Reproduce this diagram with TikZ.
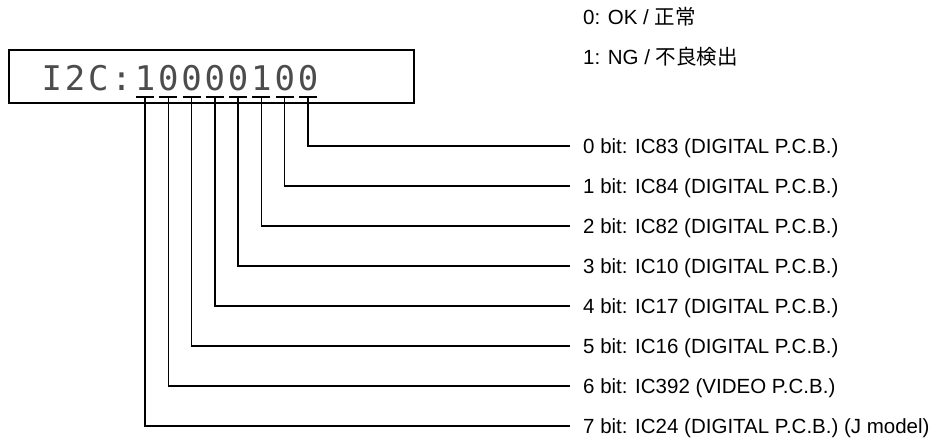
\documentclass[tikz,border=0pt]{standalone}
\usepackage{fontspec}
\setmainfont{Liberation Sans}
\newfontfamily\cjk{Noto Sans CJK JP}
\newfontfamily\lcdfont{DejaVu Sans Mono}
\usetikzlibrary{calc}
\begin{document}
\begin{tikzpicture}[x=1pt,y=-1pt,
  lbl/.style={anchor=base west, inner sep=0pt, font=\fontsize{20.5}{24}\selectfont},
  dig/.style={inner sep=0pt, anchor=base, font=\lcdfont\fontsize{34}{36}\selectfont, text=black!70},
  wire/.style={line width=1.5pt},
  tbar/.style={line width=2.2pt},
  frame/.style={draw, line width=2pt, inner sep=0pt}]
\useasboundingbox (0,0) rectangle (938,439);
% display box
\node[frame, minimum width=405pt, minimum height=53pt] (box) at (211.5,76) {};
\foreach \c [count=\i from 1] in {I,2,C,:}
  \node[dig] (p\i) at (145-23.29*5+23.29*\i,90) {\c};
\foreach \b/\v [count=\i from 0] in {7/1,6/0,5/0,4/0,3/0,2/1,1/0,0/0}
  \node[dig] (d\b) at (145+23.29*\i,90) {\v};
% legend
\node[lbl] (ok) at (583,24.5) {0: OK / {\cjk 正常}};
\node[lbl] (ng) at (583,64.5) {1: NG / {\cjk 不良検出}};
% bit labels
\foreach \b/\t in {0/IC83 (DIGITAL P.C.B.),1/IC84 (DIGITAL P.C.B.),2/IC82 (DIGITAL P.C.B.),3/IC10 (DIGITAL P.C.B.),4/IC17 (DIGITAL P.C.B.),5/IC16 (DIGITAL P.C.B.),6/IC392 (VIDEO P.C.B.),7/IC24 (DIGITAL P.C.B.) (J model)}
  \node[lbl] (l\b) at (583,153.4+40*\b) {\b{} bit: \t};
% connectors
\foreach \b in {0,...,7}{
  \coordinate (t\b) at ($(d\b.base)+(0,6.7)$);
  \draw[tbar] ($(t\b)+(-9,0)$) -- ($(t\b)+(9,0)$);
  \draw[wire] (t\b) |- ($(l\b.base west)+(-13,-7.4)$);
}
\end{tikzpicture}
\end{document}
